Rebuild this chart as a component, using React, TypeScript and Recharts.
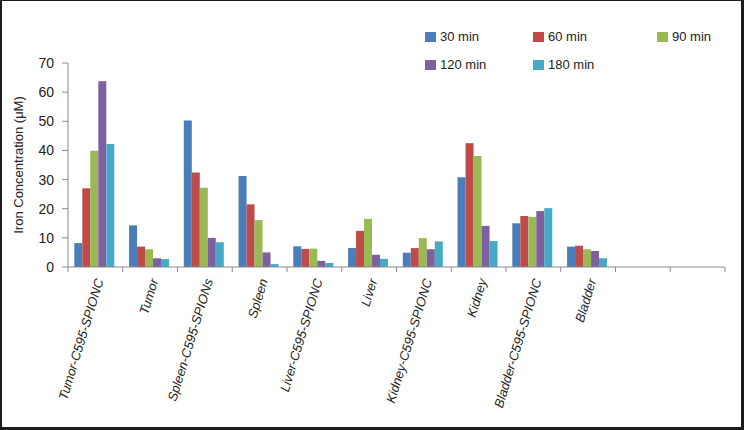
import { Bar, BarChart, Label, Legend, XAxis, YAxis } from 'recharts';

const categories = [
  'Tumor-C595-SPIONC',
  'Tumor',
  'Spleen-C595-SPIONs',
  'Spleen',
  'Liver-C595-SPIONC',
  'Liver',
  'Kidney-C595-SPIONC',
  'Kidney',
  'Bladder-C595-SPIONC',
  'Bladder',
  '',
  '',
];

const min30 = [8.2, 14.3, 50.3, 31.2, 7.1, 6.5, 4.9, 30.8, 15.0, 7.0, null, null];
const min60 = [27.0, 7.0, 32.4, 21.5, 6.2, 12.4, 6.5, 42.5, 17.5, 7.3, null, null];
const min90 = [39.9, 6.1, 27.2, 16.1, 6.3, 16.5, 9.9, 38.1, 17.2, 6.1, null, null];
const min120 = [63.7, 3.0, 10.0, 5.0, 2.1, 4.2, 6.1, 14.1, 19.2, 5.5, null, null];
const min180 = [42.2, 2.7, 8.5, 1.0, 1.4, 2.8, 8.8, 8.9, 20.2, 3.0, null, null];

const yTicks = [0, 10, 20, 30, 40, 50, 60, 70];

const series = [
  { key: 'm30', name: '30 min', color: '#4A7EBB', values: min30 },
  { key: 'm60', name: '60 min', color: '#BE4B48', values: min60 },
  { key: 'm90', name: '90 min', color: '#98B954', values: min90 },
  { key: 'm120', name: '120 min', color: '#7D60A0', values: min120 },
  { key: 'm180', name: '180 min', color: '#46AAC5', values: min180 },
];

const data = categories.map((name, i) => {
  const row: Record<string, string | number | null> = { name };
  series.forEach((s) => {
    row[s.key] = s.values[i];
  });
  return row;
});

const W = 744;
const H = 430;
const margin = { top: 63, right: 19, bottom: 13, left: 0 };
const yAxisWidth = 68;
const halfBand = (W - margin.left - margin.right - yAxisWidth) / categories.length / 2;
const font = '"Liberation Sans", Arial, Helvetica, sans-serif';
const axisColor = '#8a8a8a';

function CategoryTick(props: any) {
  const { x, y, payload, index } = props;
  return (
    <g>
      <line x1={x - halfBand} y1={y} x2={x - halfBand} y2={y + 5} stroke={axisColor} />
      {index === categories.length - 1 ? (
        <line x1={x + halfBand} y1={y} x2={x + halfBand} y2={y + 5} stroke={axisColor} />
      ) : null}
      <text
        transform={`translate(${x + 4}, ${y + 12}) rotate(-73)`}
        textAnchor="end"
        dy="0.35em"
        fontFamily={font}
        fontSize={13}
        fontStyle="italic"
        fill="#222"
      >
        {payload.value}
      </text>
    </g>
  );
}

function YTitle(props: any) {
  const { x, y, height } = props.viewBox;
  const cx = x + 18;
  const cy = y + height / 2;
  return (
    <text
      transform={`translate(${cx}, ${cy}) rotate(-90)`}
      textAnchor="middle"
      dy="0.35em"
      fontFamily={font}
      fontSize={13}
      fill="#222"
    >
      Iron Concentration (μM)
    </text>
  );
}

function LegendBox() {
  return (
    <div
      style={{
        display: 'grid',
        gridTemplateColumns: '108px 124px 80px',
        rowGap: 11,
        fontFamily: font,
        fontSize: 13,
        color: '#222',
      }}
    >
      {series.map((s) => (
        <div key={s.key} style={{ display: 'flex', alignItems: 'center', height: 17 }}>
          <span style={{ width: 11, height: 10, background: s.color, marginRight: 4 }} />
          <span>{s.name}</span>
        </div>
      ))}
    </div>
  );
}

export default function App() {
  return (
    <div style={{ position: 'absolute', left: 0, top: 0, width: W, height: H, background: '#fff' }}>
      <BarChart
        width={W}
        height={H}
        data={data}
        margin={margin}
        barCategoryGap="11.5%"
        barGap={0}
      >
        <XAxis
          dataKey="name"
          interval={0}
          tickLine={false}
          tickSize={0}
          tickMargin={0}
          height={150}
          stroke={axisColor}
          tick={<CategoryTick />}
        />
        <YAxis
          width={yAxisWidth}
          domain={[0, 70]}
          ticks={yTicks}
          interval={0}
          tickSize={6}
          tickMargin={8}
          stroke={axisColor}
          tick={{ fill: '#222', fontSize: 14, fontFamily: font }}
        >
          <Label content={<YTitle />} />
        </YAxis>
        <Legend
          verticalAlign="middle"
          layout="horizontal"
          content={<LegendBox />}
          wrapperStyle={{ top: 28, left: 425, width: 320 }}
        />
        {series.map((s) => (
          <Bar key={s.key} dataKey={s.key} name={s.name} fill={s.color} isAnimationActive={false} />
        ))}
      </BarChart>
      <div
        style={{
          position: 'absolute',
          left: 0,
          top: 0,
          width: W,
          height: H,
          boxSizing: 'border-box',
          borderLeft: '2px solid #1c1c1c',
          borderTop: '1px solid #1c1c1c',
          borderRight: '3px solid #1c1c1c',
          borderBottom: '3px solid #1c1c1c',
          pointerEvents: 'none',
        }}
      />
    </div>
  );
}
